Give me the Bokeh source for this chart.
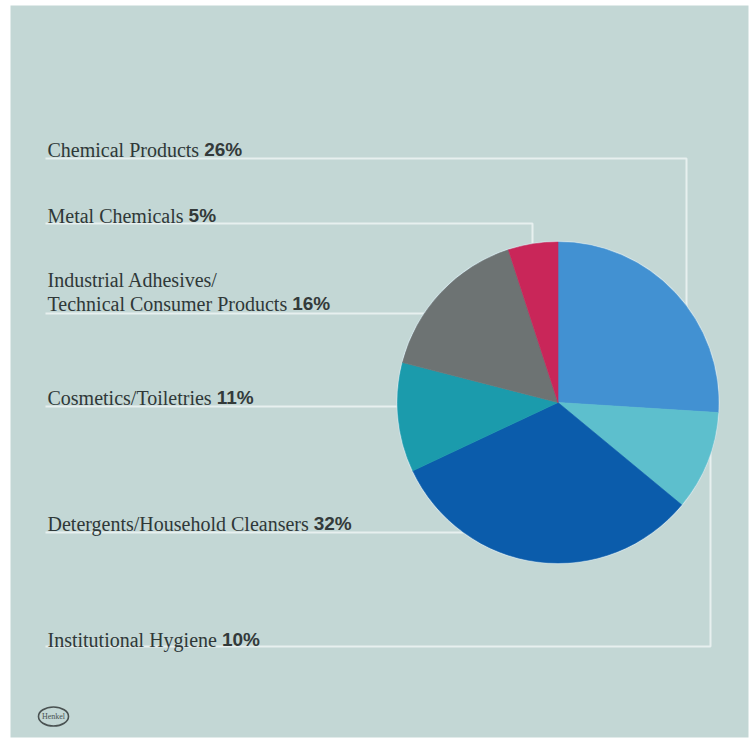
import glob
import math
from bokeh.plotting import figure
from bokeh.models import Range1d, ColumnDataSource
from bokeh.core.properties import value
from bokeh.embed import file_html
from bokeh.resources import INLINE

# ---------------- data ----------------
categories = ["Chemical Products", "Institutional Hygiene", "Detergents/Household Cleansers",
              "Cosmetics/Toiletries", "Industrial Adhesives/\nTechnical Consumer Products",
              "Metal Chemicals"]
shares = [26, 10, 32, 11, 16, 5]
pct_labels = ["26%", "10%", "32%", "11%", "16%", "5%"]
colors = ["#4291d2", "#5dbfcd", "#0b5cab", "#1b9bac", "#6d7373", "#c92659"]

# ---------------- layout (screen px) ----------------
W, H = 753, 738
X0, Y0 = 0, 0
cx, cy, R = 557.5, 402, 160.5      # pie centre / radius
label_x = 47
# per category: baseline of last text line, underline y, elbow x (None = straight to pie)
baselines = [149, 639, 523, 397, 303, 215]
underline_y = [158, 646, 532, 406, 313, 223]
elbow_x = [686, 710, None, None, None, 532]
line_h = 24

PANEL = "#c3d7d5"
LINE = "#e7f0ef"
TXT = "#2f3838"
SERIF = "Liberation Serif"
SANS = "Liberation Sans"
FS_SERIF = 20
FS_SANS = 19


def Y(s):
    return -s


def find_font(pats):
    for pat in pats:
        for root in ("/usr/share/fonts", "/usr/local/share/fonts"):
            hits = glob.glob(root + "/**/" + pat, recursive=True)
            if hits:
                return hits[0]
    return None


try:
    from PIL import ImageFont
    _serif_path = find_font(["LiberationSerif-Regular.ttf"])
    _serif = ImageFont.truetype(_serif_path, FS_SERIF) if _serif_path else None
except Exception:
    _serif = None


def serif_width(t):
    if _serif is not None:
        try:
            return _serif.getlength(t)
        except Exception:
            pass
    return len(t) * FS_SERIF * 0.45


p = figure(width=W, height=H, output_backend="svg", toolbar_location=None,
           x_range=Range1d(X0, X0 + W), y_range=Range1d(-(Y0 + H), -Y0),
           min_border=0)
p.axis.visible = False
p.grid.visible = False
p.outline_line_color = None
p.background_fill_color = "white"
p.border_fill_color = "white"

# panel
p.quad(left=[10], right=[748], top=[Y(5)], bottom=[Y(737)],
       fill_color=PANEL, line_color=None)

# connector lines (drawn to the pie centre; the pie covers the inner part)
xs, ys = [], []
for i in range(len(categories)):
    uy = underline_y[i]
    if elbow_x[i] is None:
        xs.append([label_x - 2, cx])
        ys.append([Y(uy), Y(uy)])
    else:
        ex = elbow_x[i]
        xs.append([label_x - 2, ex, ex])
        ys.append([Y(uy), Y(uy), Y(cy)])
p.multi_line(xs=xs, ys=ys, line_color=LINE, line_width=2)

# pie
total = sum(shares)
starts, ends = [], []
acc = 0.0
for s in shares:
    starts.append(math.pi / 2 - 2 * math.pi * acc / total)
    acc += s
    ends.append(math.pi / 2 - 2 * math.pi * acc / total)
src = ColumnDataSource(dict(x=[cx] * len(shares), y=[Y(cy)] * len(shares),
                            start=starts, end=ends, color=colors))
p.circle(x=[cx], y=[Y(cy)], radius=R + 1.2, fill_color="#d3e5ea", line_color=None)
p.wedge(x="x", y="y", radius=R, start_angle="start", end_angle="end",
        direction="clock", fill_color="color", line_color="color", line_width=0.6,
        source=src)

# labels
name_x, name_y, name_t = [], [], []
pct_x, pct_y, pct_t = [], [], []
for i, cat in enumerate(categories):
    lines = cat.split("\n")
    b = baselines[i]
    n = len(lines)
    for j, ln in enumerate(lines):
        name_x.append(label_x)
        name_y.append(Y(b - (n - 1 - j) * line_h))
        name_t.append(ln)
    pct_x.append(label_x + serif_width(lines[-1] + " "))
    pct_y.append(Y(b))
    pct_t.append(pct_labels[i])

p.text(x=name_x, y=name_y, text=name_t, text_font=value(SERIF),
       text_font_size=f"{FS_SERIF}px", text_color=TXT, text_baseline="alphabetic",
       text_align="left")
p.text(x=pct_x, y=pct_y, text=pct_t, text_font=value(SANS),
       text_font_size=f"{FS_SANS}px", text_font_style="bold", text_color="#333a3a",
       text_baseline="alphabetic", text_align="left")

# Henkel logo
p.ellipse(x=[53], y=[Y(716)], width=30, height=19, fill_color=None,
          line_color="#4a5252", line_width=1.6)
p.text(x=[53], y=[Y(716)], text=["Henkel"], text_font=value(SERIF),
       text_font_size="8px", text_color="#4a5252", text_align="center",
       text_baseline="middle")

open("out.html", "w").write(file_html(p, INLINE))
